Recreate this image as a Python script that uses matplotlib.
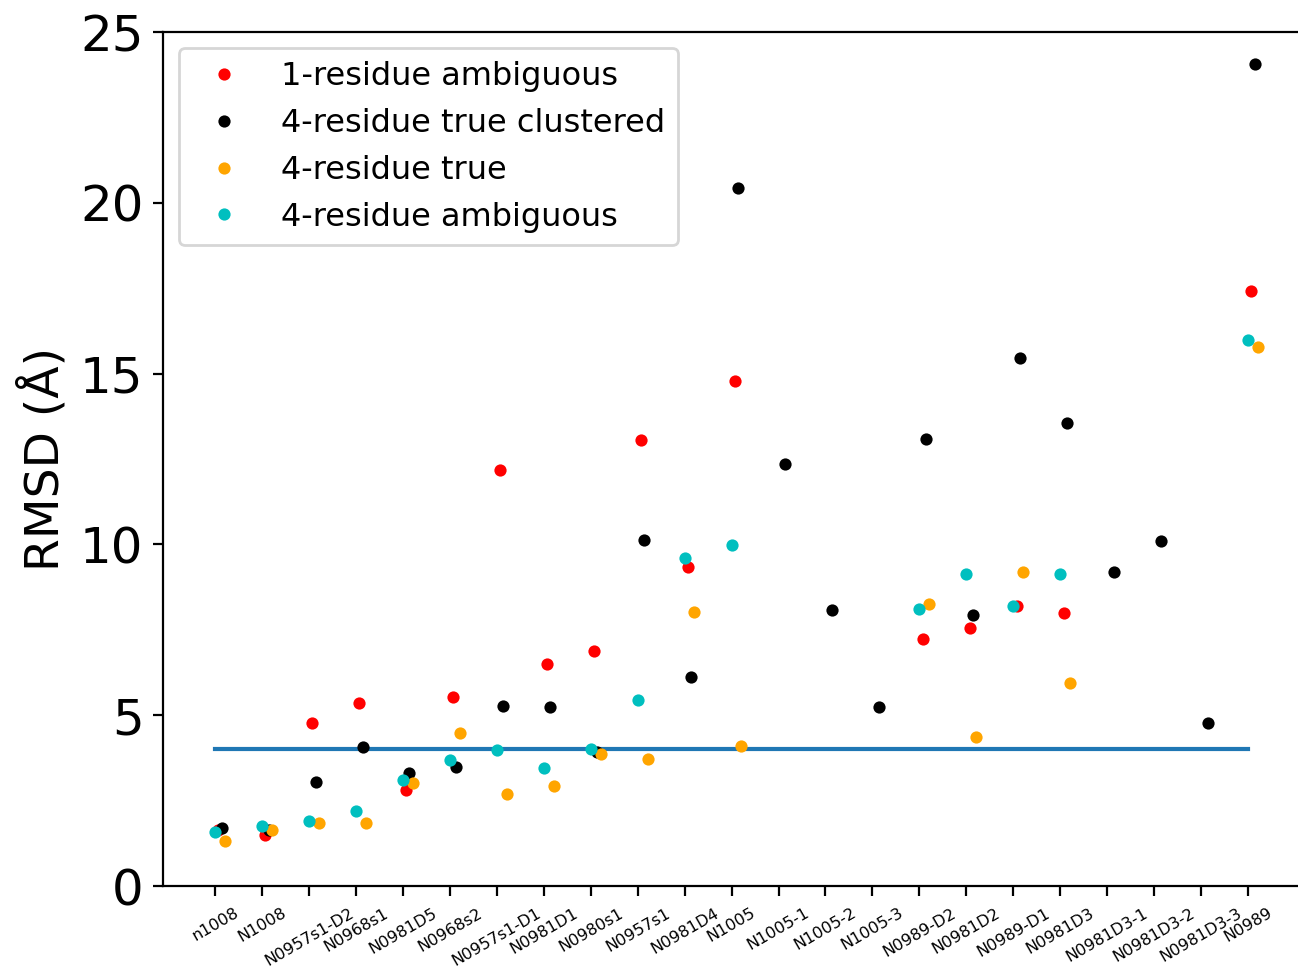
import numpy as np
import matplotlib
matplotlib.use("Agg")
import matplotlib.pyplot as plt

nan = np.nan
targets = ["n1008", "N1008", "N0957s1-D2", "N0968s1", "N0981D5", "N0968s2",
           "N0957s1-D1", "N0981D1", "N0980s1", "N0957s1", "N0981D4", "N1005",
           "N1005-1", "N1005-2", "N1005-3", "N0989-D2", "N0981D2", "N0989-D1",
           "N0981D3", "N0981D3-1", "N0981D3-2", "N0981D3-3", "N0989"]

# RMSD values per target (nan = not run)
one_ambig = [1.65, 1.48, 4.78, 5.35, 2.81, 5.52, 12.18, 6.50, 6.89, 13.07, 9.35, 14.77,
             nan, nan, nan, 7.22, 7.56, 8.20, 8.00, nan, nan, nan, 17.43]
four_true_clust = [1.71, 1.64, 3.05, 4.07, 3.30, 3.49, 5.28, 5.23, 3.93, 10.13, 6.11, 20.42,
                   12.34, 8.07, 5.23, 13.09, 7.92, 15.47, 13.56, 9.18, 10.09, 4.76, 24.07]
four_true = [1.33, 1.64, 1.83, 1.85, 3.01, 4.49, 2.68, 2.94, 3.87, 3.71, 8.01, 4.10,
             nan, nan, nan, 8.26, 4.37, 9.18, 5.93, nan, nan, nan, 15.79]
four_ambig = [1.59, 1.77, 1.91, 2.20, 3.10, 3.69, 3.98, 3.46, 4.00, 5.44, 9.61, 9.98,
              nan, nan, nan, 8.11, 9.14, 8.20, 9.14, nan, nan, nan, 15.99]
cutoff = 4

x = np.arange(len(targets))

fig = plt.figure(figsize=(6.49, 4.855), dpi=200)
ax = fig.add_axes([163/1298, 85/971, (1310-163)/1298, 854/971])

ax.plot([0, len(targets)-1], [cutoff, cutoff], color="#1f77b4", linewidth=1.5)
ax.plot(x+0.07, one_ambig, 'o', color="r", ms=4.4, mew=0, label="1-residue ambiguous")
ax.plot(x+0.14, four_true_clust, 'o', color="k", ms=4.4, mew=0, label="4-residue true clustered")
ax.plot(x+0.21, four_true, 'o', color="orange", ms=4.4, mew=0, label="4-residue true")
ax.plot(x, four_ambig, 'o', color="c", ms=4.4, mew=0, label="4-residue ambiguous")

ax.set_xticks(x)
ax.set_xticklabels(targets, rotation=30, fontsize=5.8)
ax.set_ylim(0, 25)
ax.set_xlim(-1.11, 23.32)
ax.set_yticks([0, 5, 10, 15, 20, 25])
ax.tick_params(axis='y', labelsize=18)
ax.set_ylabel("RMSD (Å)", fontsize=17)
ax.legend(loc="upper left", fontsize=11.5, labelspacing=0.5)

fig.savefig("out.png", dpi=200)
